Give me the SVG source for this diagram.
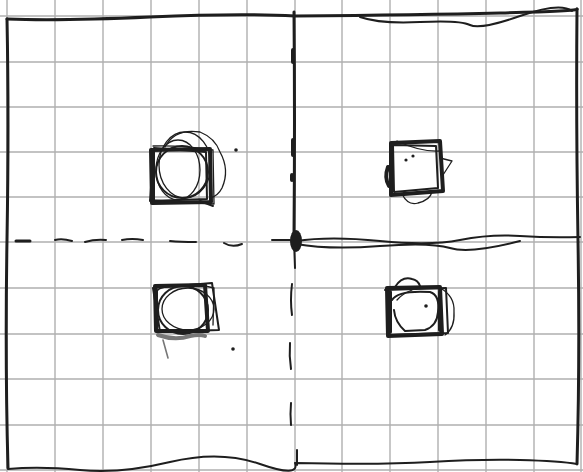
<svg xmlns="http://www.w3.org/2000/svg" width="583" height="472" viewBox="0 0 583 472">
<defs>
<style>
.grid{stroke:#b0b0b0;stroke-width:1.4;fill:none}
.ink{stroke:#1e1e1e;fill:none;stroke-linecap:round;stroke-linejoin:round}
.thick{stroke-width:3}
.heavy{stroke-width:4}
.mid{stroke-width:2}
.thin{stroke-width:1.3}
.gray{stroke:#777;fill:none;stroke-linecap:round}
.dot{fill:#1e1e1e}
</style>
</defs>
<rect width="583" height="472" fill="#fff"/>
<g id="grid">
<path class="grid" d="M7,0V472M55,0V472M103,0V472M151,0V472M199,0V472M247,0V472M295,0V472M342,0V472M390,0V472M438,0V472M486,0V472M534,0V472M581,0V472"/>
<path class="grid" d="M0,16H583M0,62H583M0,107H583M0,152H583M0,197H583M0,242H583M0,288H583M0,334H583M0,379H583M0,425H583M0,470H583"/>
</g>
<g id="frame">
<path class="ink thick" d="M7,19 Q60,21 150,17 T295,16 Q420,15 500,13 T577,9"/>
<path class="ink mid" d="M360,17 Q380,24 420,22 T470,25 T520,16 T572,11"/>
<path class="ink thick" d="M7,19 Q9,120 7,240 T8,468"/>
<path class="ink thick" d="M577,9 Q576,120 578,240 T577,464"/>
<path class="ink mid" d="M8,469 Q40,466 80,470 T170,462 T260,464 T295,463 Q380,465 430,462 T520,460 T577,464"/>
</g>
<g id="connectors">
<path class="ink thick" d="M294,12 Q295,120 294,238"/>
<path class="ink heavy" d="M293,50 V62M293,140 V155M292,175 V180"/>
<path class="ink mid" d="M294,240 L295,268"/>
<path class="ink mid" d="M292,284 Q290,300 292,315M290,343 Q289,356 291,369M291,403 Q290,414 291,425M297,450 L297,465"/>
<path class="ink thick" d="M16,241 H30"/>
<path class="ink mid" d="M55,240 Q62,238 72,241M85,242 Q95,239 106,240M122,240 Q132,238 143,240M170,241 Q180,242 196,242M224,243 Q232,248 242,244M272,240 H290"/>
<path class="ink mid" d="M296,241 Q330,236 380,241 T460,240 T520,236 T580,237"/>
<path class="ink mid" d="M296,244 Q330,250 380,246 T450,248 T520,241"/>
<ellipse cx="296" cy="241" rx="6" ry="11" class="dot"/>
</g>
<g id="node-top-left">
<path class="ink heavy" d="M151,150 L210,149 L211,202 L152,203 Z"/>
<path class="ink mid" d="M154,148 L206,152 L207,199 L150,201 Z"/>
<path class="ink thin" d="M153,146 Q180,145 213,150 L214,204 L150,200"/>
<path class="ink heavy" d="M153,152 V200"/>
<circle class="ink mid" cx="182" cy="172" r="26"/>
<ellipse class="ink thin" cx="185" cy="165" rx="26" ry="33"/>
<ellipse class="ink thin" cx="178" cy="170" rx="22" ry="30"/>
<path class="ink thin" d="M165,147 Q175,128 200,132 Q215,138 220,152 Q230,170 222,188 Q218,196 210,198"/>
<path class="ink mid" d="M200,201 L213,206"/>
<circle class="dot" cx="236" cy="150" r="1.8"/>
</g>
<g id="node-top-right">
<path class="ink heavy" d="M391,143 L440,141 L443,191 L391,195 Z"/>
<path class="ink mid" d="M393,145 L436,146 L438,188 L394,192 Z"/>
<path class="ink thin" d="M397,141 Q420,152 440,151"/>
<path class="ink heavy" d="M388,167 Q384,178 389,186"/>
<path class="ink thin" d="M440,158 L452,161 L443,175"/>
<path class="ink thin" d="M402,194 Q408,206 418,203 Q430,200 432,192"/>
<circle class="dot" cx="406" cy="160" r="1.6"/>
<circle class="dot" cx="413" cy="156" r="1.6"/>
</g>
<g id="node-bottom-left">
<path class="ink heavy" d="M155,286 L205,285 L208,331 L156,331 Z"/>
<path class="ink mid" d="M153,288 L212,283 L219,330 L160,332 Z"/>
<path class="ink thin" d="M158,290 Q163,284 205,286 L214,288 L213,325"/>
<path class="ink heavy" d="M156,290 V328"/>
<ellipse class="ink mid" cx="183" cy="310" rx="25" ry="24"/>
<ellipse class="ink thin" cx="188" cy="309" rx="26" ry="21"/>
<path class="gray" stroke-width="4" d="M158,335 Q175,341 190,336 Q200,334 205,336"/>
<path class="gray" stroke-width="1.6" d="M163,340 L168,358"/>
<circle class="dot" cx="233" cy="349" r="1.8"/>
</g>
<g id="node-bottom-right">
<path class="ink heavy" d="M387,288 L440,287 L442,334 L388,336 Z"/>
<path class="ink mid" d="M385,290 L446,288 L448,333 L389,335"/>
<path class="ink thin" d="M440,288 Q455,296 454,312 Q455,328 445,335"/>
<path class="ink heavy" d="M390,292 V332M440,292 V330"/>
<path class="ink mid" d="M395,287 Q402,276 412,279 Q418,280 420,286"/>
<path class="ink mid" d="M392,300 Q398,290 430,292 Q440,295 438,312 Q437,326 425,330 L405,331 Q395,322 394,310"/>
<path class="ink thin" d="M397,300 Q402,294 412,290"/>
<circle class="dot" cx="426" cy="306" r="1.8"/>
</g>
</svg>
